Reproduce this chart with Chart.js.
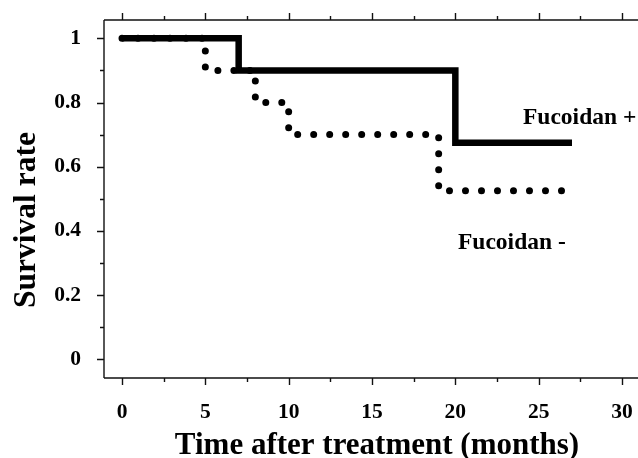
<!DOCTYPE html>
<html>
<head>
<meta charset="utf-8">
<script src="https://cdn.jsdelivr.net/npm/chart.js@4/dist/chart.umd.min.js"></script>
<style>
  html, body { margin: 0; padding: 0; background: #fff; overflow: hidden; }
  canvas { display: block; }
</style>
</head>
<body>
<canvas id="c" width="638" height="458"></canvas>
<script>
// ---- data ----
const plusTime  = [0, 7, 20, 27];
const plusSurv  = [1, 0.9, 0.675, 0.675];
const minusTime = [0, 5, 8, 10, 19, 26.5];
const minusSurv = [1, 0.9, 0.8, 0.7, 0.525, 0.525];

const xTicks = [0, 5, 10, 15, 20, 25, 30];
const xMinorTicks = [2.5, 7.5, 12.5, 17.5, 22.5, 27.5];
const yTicks = [0, 0.2, 0.4, 0.6, 0.8, 1];
const yTickLabels = ['0', '0.2', '0.4', '0.6', '0.8', '1'];
const yMinorTicks = [0.1, 0.3, 0.5, 0.7, 0.9];

const seriesLabels = ['Fucoidan +', 'Fucoidan -'];
const xTitle = 'Time after treatment (months)';
const yTitle = 'Survival rate';

const FONT = "'Liberation Serif', 'Times New Roman', serif";
const INK = '#000';

function pts(xs, ys) { return xs.map((x, i) => ({ x: x, y: ys[i] })); }

const decor = {
  id: 'decor',
  afterDatasetsDraw(chart) {
    const ctx = chart.ctx;
    const a = chart.chartArea;
    const xs = chart.scales.x, ys = chart.scales.y;
    ctx.save();
    ctx.strokeStyle = '#111';
    ctx.lineWidth = 1.4;
    ctx.lineCap = 'butt';
    ctx.beginPath();
    ctx.moveTo(a.left, a.top); ctx.lineTo(a.left, a.bottom);
    ctx.moveTo(a.left, a.bottom); ctx.lineTo(a.right + 2, a.bottom);
    ctx.moveTo(a.left, a.top); ctx.lineTo(a.right + 2, a.top);
    xTicks.forEach(v => {
      const px = Math.round(xs.getPixelForValue(v)) + 0.5;
      ctx.moveTo(px, a.bottom); ctx.lineTo(px, a.bottom + 7);
      ctx.moveTo(px, a.top); ctx.lineTo(px, a.top - 7);
    });
    xMinorTicks.forEach(v => {
      const px = Math.round(xs.getPixelForValue(v)) + 0.5;
      ctx.moveTo(px, a.bottom); ctx.lineTo(px, a.bottom + 4);
      ctx.moveTo(px, a.top); ctx.lineTo(px, a.top - 4);
    });
    yTicks.forEach(v => {
      const py = Math.round(ys.getPixelForValue(v)) + 0.5;
      ctx.moveTo(a.left, py); ctx.lineTo(a.left - 7, py);
    });
    yMinorTicks.forEach(v => {
      const py = Math.round(ys.getPixelForValue(v)) + 0.5;
      ctx.moveTo(a.left, py); ctx.lineTo(a.left - 4, py);
    });
    ctx.stroke();

    // series labels
    ctx.fillStyle = INK;
    ctx.textBaseline = 'middle';
    ctx.textAlign = 'left';
    ctx.font = "bold 23.5px " + FONT;
    ctx.fillText(seriesLabels[0], xs.getPixelForValue(24.06), ys.getPixelForValue(0.752));
    ctx.fillText(seriesLabels[1], xs.getPixelForValue(20.16), ys.getPixelForValue(0.362));

    // axis titles
    ctx.font = "bold 31px " + FONT;
    ctx.textAlign = 'center';
    ctx.textBaseline = 'alphabetic';
    ctx.fillText(xTitle, 377, 454);
    ctx.save();
    ctx.translate(35, 220);
    ctx.rotate(-Math.PI / 2);
    ctx.font = "bold 31.5px " + FONT;
    ctx.fillText(yTitle, 0, 0);
    ctx.restore();
    ctx.restore();
  }
};

function zeroPad(s) { s.paddingLeft = 0; s.paddingRight = 0; s.paddingTop = 0; s.paddingBottom = 0; }

new Chart(document.getElementById('c'), {
  type: 'scatter',
  data: {
    datasets: [
      {
        label: seriesLabels[1],
        data: pts(minusTime, minusSurv),
        showLine: true,
        stepped: true,
        borderColor: INK,
        borderWidth: 7,
        borderDash: [0, 16],
        borderCapStyle: 'round',
        borderJoinStyle: 'round',
        pointRadius: 0,
        fill: false
      },
      {
        label: seriesLabels[0],
        data: pts(plusTime, plusSurv),
        showLine: true,
        stepped: true,
        borderColor: INK,
        borderWidth: 6.5,
        borderCapStyle: 'butt',
        borderJoinStyle: 'miter',
        pointRadius: 0,
        fill: false
      }
    ]
  },
  options: {
    responsive: false,
    animation: false,
    devicePixelRatio: 1,
    layout: { padding: { top: 20, right: 0, left: 0, bottom: 0 } },
    plugins: { legend: { display: false }, tooltip: { enabled: false } },
    scales: {
      x: {
        type: 'linear',
        min: -1.08, max: 30.96,
        afterBuildTicks: s => { s.ticks = xTicks.map(v => ({ value: v })); },
        afterFit: s => { s.height = 80; zeroPad(s); },
        grid: { display: false, drawTicks: false },
        border: { display: false },
        ticks: {
          color: INK,
          padding: 22,
          maxRotation: 0,
          font: { family: FONT, size: 21.5, weight: 'bold' },
          callback: v => String(v)
        }
      },
      y: {
        type: 'linear',
        min: -0.058, max: 1.057,
        afterBuildTicks: s => { s.ticks = yTicks.map(v => ({ value: v })); },
        afterFit: s => { s.width = 104; zeroPad(s); },
        grid: { display: false, drawTicks: false },
        border: { display: false },
        ticks: {
          color: INK,
          padding: 23,
          font: { family: FONT, size: 21.5, weight: 'bold' },
          callback: (v) => yTickLabels[yTicks.indexOf(v)] ?? ''
        }
      }
    }
  },
  plugins: [decor]
});
</script>
</body>
</html>
